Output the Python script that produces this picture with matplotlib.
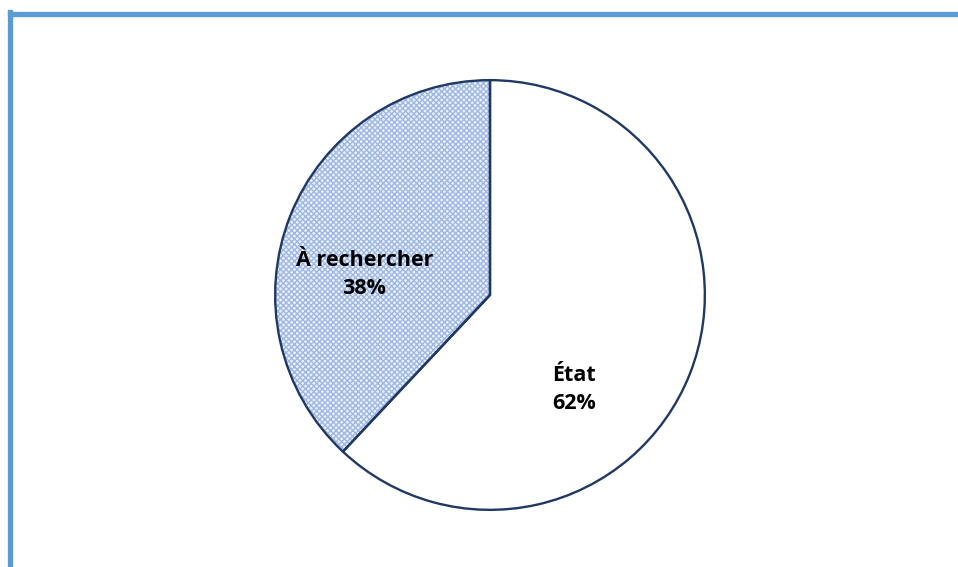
import matplotlib.pyplot as plt
from matplotlib.lines import Line2D

# données
labels = ['État', 'À rechercher']
values = [62, 38]

plt.rcParams['font.family'] = ['Open Sans', 'DejaVu Sans']
plt.rcParams['hatch.linewidth'] = 1.0

fig = plt.figure(figsize=(9.58, 5.67), dpi=100)

# cadre bleu (haut et gauche)
fig.add_artist(Line2D([9.5 / 958, 1], [1 - 13.5 / 567, 1 - 13.5 / 567],
                      color='#5b9bd5', lw=3.8, transform=fig.transFigure))
fig.add_artist(Line2D([9.5 / 958, 9.5 / 958], [0, 1 - 11.5 / 567],
                      color='#5b9bd5', lw=3.8, transform=fig.transFigure))

r = 217
cx, cy = 490, 295
ax = fig.add_axes([(cx - r) / 958, (567 - cy - r) / 567, 2 * r / 958, 2 * r / 567])

# remplissage hachuré
w1, _ = ax.pie(values, startangle=90, counterclock=False, radius=1,
               colors=['white', '#eaf0fa'], wedgeprops=dict(linewidth=0))
w1[1].set_hatch('xxxxxx')
w1[1].set_edgecolor('#9fb8e3')
w1[1].set_linewidth(0)

# contours
ax.pie(values, startangle=90, counterclock=False, radius=1,
       colors=['none', 'none'],
       wedgeprops=dict(linewidth=1.7, edgecolor='#1f3864'))

ax.set_xlim(-1.01, 1.01)
ax.set_ylim(-1.01, 1.01)
ax.set_aspect('auto')

ax.text(0.39, -0.44, f'{labels[0]}\n{values[0]}%', ha='center', va='center',
        fontsize=15.5, fontweight='bold', linespacing=1.45)
ax.text(-0.585, 0.095, f'{labels[1]}\n{values[1]}%', ha='center', va='center',
        fontsize=15.5, fontweight='bold', linespacing=1.45)

fig.savefig('out.png', dpi=100)
